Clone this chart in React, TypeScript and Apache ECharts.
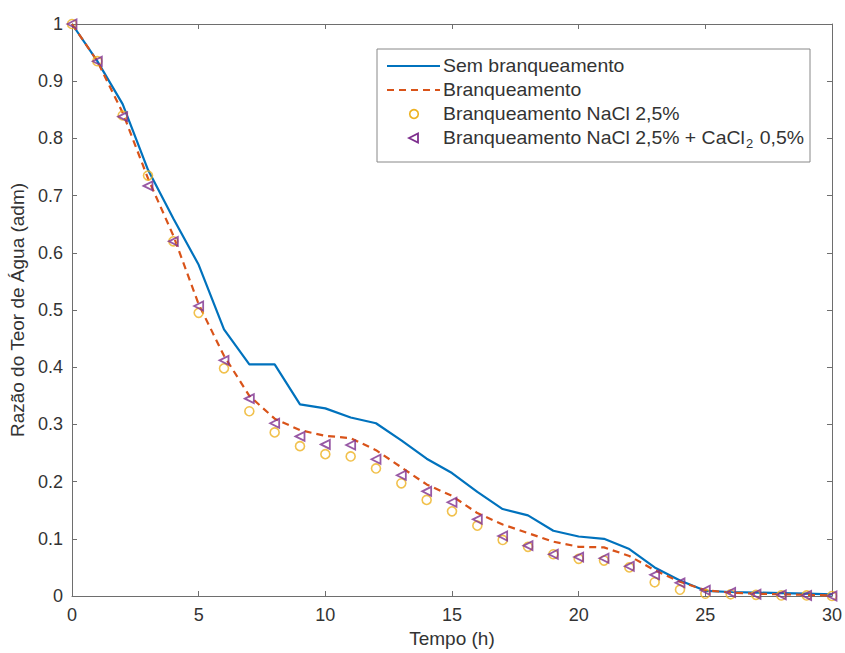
import React, { useEffect, useRef } from "react";
import * as echarts from "echarts";

const hours = [0,1,2,3,4,5,6,7,8,9,10,11,12,13,14,15,16,17,18,19,20,21,22,23,24,25,26,27,28,29,30];
const semBranqueamento = [1.0,0.935,0.86,0.745,0.66,0.579,0.466,0.405,0.405,0.335,0.328,0.312,0.302,0.272,0.24,0.215,0.182,0.152,0.141,0.114,0.104,0.1,0.082,0.05,0.027,0.009,0.007,0.006,0.005,0.004,0.003];
const branqueamento = [1.0,0.935,0.845,0.73,0.63,0.51,0.42,0.35,0.31,0.29,0.28,0.276,0.255,0.225,0.195,0.175,0.145,0.125,0.11,0.095,0.086,0.085,0.07,0.045,0.025,0.01,0.006,0.004,0.003,0.002,0.001];
const nacl = [1.0,0.935,0.84,0.735,0.62,0.495,0.398,0.323,0.286,0.262,0.248,0.244,0.223,0.197,0.168,0.148,0.123,0.098,0.086,0.073,0.065,0.062,0.05,0.024,0.011,0.004,0.003,0.002,0.001,0.001,0.0];
const naclCacl = [1.0,0.935,0.838,0.717,0.62,0.507,0.412,0.345,0.302,0.279,0.265,0.264,0.239,0.211,0.183,0.164,0.134,0.105,0.088,0.073,0.068,0.066,0.052,0.037,0.023,0.01,0.006,0.003,0.002,0.001,0.0];

const yTicks = ["0","0.1","0.2","0.3","0.4","0.5","0.6","0.7","0.8","0.9","1"];
const names = [
  "Sem branqueamento",
  "Branqueamento",
  "Branqueamento NaCl 2,5%",
  "Branqueamento NaCl 2,5% + CaCl2 0,5%",
];
const colors = ["#0072BD", "#D95319", "#EDB120", "#7E2F8E"];

const pairs = (ys: number[]) => hours.map((h, i) => [h, ys[i]]);

export default function App() {
  const ref = useRef<HTMLDivElement>(null);
  useEffect(() => {
    if (!ref.current) return;
    const chart = echarts.init(ref.current, null, { renderer: "svg" });
    const axisColor = "#6e6e6e";
    const textColor = "#333";
    const font = "Liberation Sans, Arial, sans-serif";

    // legend drawn with graphic elements
    const lx = 377, ly = 49, lw = 433, lh = 113;
    const rowY = [66, 90, 114, 138];
    const sx0 = 387, sx1 = 440, mx = 414, tx = 443;
    const legendText = (i: number, text: string, rich?: any) => ({
      type: "text",
      x: tx,
      y: rowY[i],
      scaleX: 1.08,
      originX: 0,
      originY: 0,
      z: 101,
      style: {
        text,
        fill: textColor,
        fontSize: 18,
        fontFamily: font,
        verticalAlign: "middle",
        align: "left",
        rich,
      },
    });
    const graphic = [
      {
        type: "rect",
        shape: { x: lx, y: ly, width: lw, height: lh },
        style: { fill: "#fff", stroke: "#888", lineWidth: 1 },
        z: 100,
      },
      {
        type: "line",
        shape: { x1: sx0, y1: rowY[0], x2: sx1, y2: rowY[0] },
        style: { stroke: colors[0], lineWidth: 2.2 },
        z: 101,
      },
      {
        type: "line",
        shape: { x1: sx0, y1: rowY[1], x2: sx1, y2: rowY[1] },
        style: { stroke: colors[1], lineWidth: 2.2, lineDash: [7, 5] },
        z: 101,
      },
      {
        type: "circle",
        shape: { cx: mx, cy: rowY[2], r: 4.3 },
        style: { fill: "none", stroke: colors[2], lineWidth: 1.6 },
        z: 101,
      },
      {
        type: "polygon",
        shape: { points: [[mx - 5, rowY[3]], [mx + 4, rowY[3] - 4.5], [mx + 4, rowY[3] + 4.5]] },
        style: { fill: "none", stroke: colors[3], lineWidth: 1.8 },
        z: 101,
      },
      legendText(0, names[0]),
      legendText(1, names[1]),
      legendText(2, names[2]),
      legendText(3, "Branqueamento NaCl 2,5% + CaCl{sub|2} 0,5%", {
        sub: { fontSize: 12, fontFamily: font, fill: textColor, verticalAlign: "bottom", padding: [12, 1, 0, 1] },
      }),
    ];

    chart.setOption({
      animation: false,
      backgroundColor: "#fff",
      grid: { left: 72, right: 13, top: 24, bottom: 56, containLabel: false },
      graphic,
      xAxis: [
        {
          type: "value",
          min: 0,
          max: 30,
          interval: 5,
          name: "Tempo (h)",
          nameLocation: "middle",
          nameGap: 33,
          nameTextStyle: { fontFamily: font, fontSize: 19, color: textColor },
          axisLine: { show: true, lineStyle: { color: axisColor, width: 1 } },
          axisTick: { show: true, inside: true, length: 5, lineStyle: { color: axisColor } },
          axisLabel: { fontFamily: font, fontSize: 18, color: textColor, margin: 10 },
          splitLine: { show: false },
        },
        {
          type: "value",
          position: "top",
          min: 0,
          max: 30,
          interval: 5,
          axisLine: { show: true, onZero: false, lineStyle: { color: axisColor, width: 1 } },
          axisTick: { show: true, inside: true, length: 5, lineStyle: { color: axisColor } },
          axisLabel: { show: false },
          splitLine: { show: false },
        },
      ],
      yAxis: [
        {
          type: "value",
          min: 0,
          max: 1,
          interval: 0.1,
          name: "Razão do Teor de Água (adm)",
          nameLocation: "middle",
          nameGap: 42,
          nameRotate: 90,
          nameTextStyle: { fontFamily: font, fontSize: 19, color: textColor },
          axisLine: { show: true, lineStyle: { color: axisColor, width: 1 } },
          axisTick: { show: true, inside: true, length: 5, lineStyle: { color: axisColor } },
          axisLabel: {
            fontFamily: font,
            fontSize: 18,
            color: textColor,
            margin: 9,
            formatter: (v: number) => yTicks[Math.round(v * 10)],
          },
          splitLine: { show: false },
        },
        {
          type: "value",
          position: "right",
          min: 0,
          max: 1,
          interval: 0.1,
          axisLine: { show: true, onZero: false, lineStyle: { color: axisColor, width: 1 } },
          axisTick: { show: true, inside: true, length: 5, lineStyle: { color: axisColor } },
          axisLabel: { show: false },
          splitLine: { show: false },
        },
      ],
      series: [
        {
          name: names[0],
          type: "line",
          data: pairs(semBranqueamento),
          showSymbol: false,
          symbol: "none",
          lineStyle: { color: colors[0], width: 2.2 },
          itemStyle: { color: colors[0] },
          z: 2,
        },
        {
          name: names[1],
          type: "line",
          data: pairs(branqueamento),
          showSymbol: false,
          symbol: "none",
          lineStyle: { color: colors[1], width: 2.2, type: [7, 5] },
          itemStyle: { color: colors[1] },
          z: 3,
        },
        {
          name: names[2],
          type: "scatter",
          data: pairs(nacl),
          symbol: "circle",
          symbolSize: 9,
          itemStyle: { color: "rgba(255,255,255,0)", borderColor: colors[2], borderWidth: 1.6 },
          z: 4,
        },
        {
          name: names[3],
          type: "scatter",
          data: pairs(naclCacl),
          symbol: "triangle",
          symbolSize: 9,
          symbolRotate: 90,
          itemStyle: { color: "rgba(255,255,255,0)", borderColor: colors[3], borderWidth: 1.8 },
          z: 5,
        },
      ],
    });
    return () => chart.dispose();
  }, []);
  return (
    <div
      ref={ref}
      style={{ position: "fixed", left: 0, top: 0, width: 845, height: 653 }}
    />
  );
}
